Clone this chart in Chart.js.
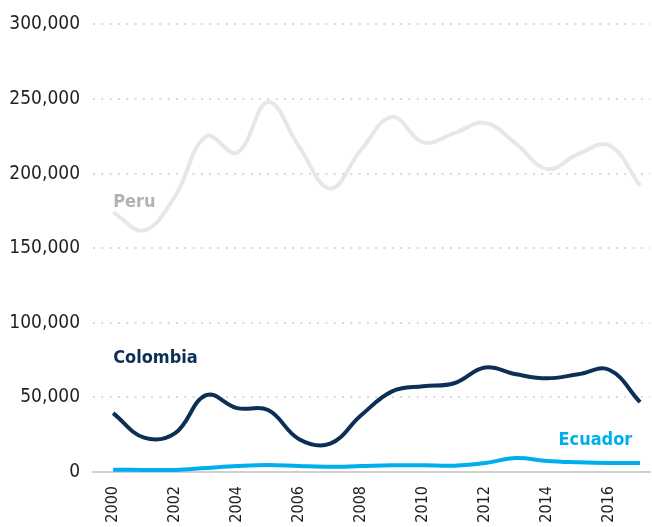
<!DOCTYPE html>
<html>
<head>
<meta charset="utf-8">
<script src="https://cdn.jsdelivr.net/npm/chart.js@4/dist/chart.umd.min.js"></script>
<style>
  html, body { margin: 0; padding: 0; background: #fff; }
  #wrap { width: 652px; height: 527px; position: relative; }
</style>
</head>
<body>
<div id="wrap"><canvas id="c" width="652" height="527"></canvas></div>
<script>
const years = [2000,2001,2002,2003,2004,2005,2006,2007,2008,2009,2010,2011,2012,2013,2014,2015,2016,2017];
const peru     = [174000,162000,185000,225000,214000,248000,218000,190000,216000,238000,221000,227000,234000,220000,203000,213000,219000,192000];
const colombia = [39500,23000,26000,51500,42800,41500,22000,19000,38000,54000,57500,59500,70000,65500,62800,65500,68500,46800];
const ecuador  = [1500,1400,1400,2700,4000,4700,4000,3500,4000,4500,4500,4200,6000,9400,7400,6500,6000,6000];
const xTickYears = [2000,2002,2004,2006,2008,2010,2012,2014,2016];
const yTicks = [0,50000,100000,150000,200000,250000,300000];
const seriesNames = ['Peru','Colombia','Ecuador'];

const FONT = '"DejaVu Sans Condensed", "Liberation Sans Narrow", sans-serif';
const colors = { Peru: '#e6e7e9', Colombia: '#0c2f56', Ecuador: '#00aeef' };
const labelColors = { Peru: '#b1b3b6', Colombia: '#0c2f56', Ecuador: '#00aeef' };
// label anchors in data units
const labelAnchors = {
  Peru:     { x: 2000, y: 181000, align: 'left' },
  Colombia: { x: 2000, y: 76000,  align: 'left' },
  Ecuador:  { x: 2016.75, y: 21500, align: 'right' }
};

const mk = (name, vals) => ({
  label: name,
  data: years.map((y, i) => ({ x: y, y: vals[i] })),
  borderColor: colors[name],
  borderWidth: 4,
  pointRadius: 0,
  tension: 0.4,
  fill: false,
  borderCapStyle: 'butt'
});

const labelPlugin = {
  id: 'seriesLabels',
  afterDatasetsDraw(chart) {
    const ctx = chart.ctx, xs = chart.scales.x, ys = chart.scales.y;
    ctx.save();
    ctx.font = 'bold 18px ' + FONT;
    ctx.textBaseline = 'middle';
    seriesNames.forEach(n => {
      const a = labelAnchors[n];
      ctx.fillStyle = labelColors[n];
      ctx.textAlign = a.align;
      ctx.fillText(n, xs.getPixelForValue(a.x), ys.getPixelForValue(a.y));
    });
    ctx.restore();
  }
};

new Chart(document.getElementById('c'), {
  type: 'line',
  data: { datasets: [mk('Peru', peru), mk('Colombia', colombia), mk('Ecuador', ecuador)] },
  options: {
    responsive: false,
    animation: false,
    devicePixelRatio: 1,
    layout: { padding: { top: 24, right: 2, left: 0, bottom: 0 } },
    plugins: { legend: { display: false }, tooltip: { enabled: false } },
    scales: {
      x: {
        type: 'linear',
        min: 1999.35,
        max: 2017.32,
        afterBuildTicks: s => { s.ticks = xTickYears.map(v => ({ value: v })); },
        afterFit: s => { s.height = 55; },
        grid: { display: false, drawTicks: false },
        border: { display: true, color: '#cfd0d2', width: 2 },
        ticks: {
          autoSkip: false,
          minRotation: 90, maxRotation: 90,
          padding: 14,
          color: '#231f20',
          font: { family: FONT, size: 16 },
          callback: v => String(v)
        }
      },
      y: {
        min: 0, max: 300000,
        afterBuildTicks: s => { s.ticks = yTicks.map(v => ({ value: v })); },
        afterFit: s => { s.width = 93; },
        grid: {
          drawTicks: false,
          lineWidth: 2,
          color: ctx => ctx.tick && ctx.tick.value === 0 ? 'rgba(0,0,0,0)' : '#d8d9db'
        },
        border: { display: false, dash: [2, 6.3] },
        ticks: {
          padding: 13,
          color: '#231f20',
          font: { family: FONT, size: 19 },
          callback: v => v.toLocaleString('en-US')
        }
      }
    }
  },
  plugins: [labelPlugin]
});
</script>
</body>
</html>
